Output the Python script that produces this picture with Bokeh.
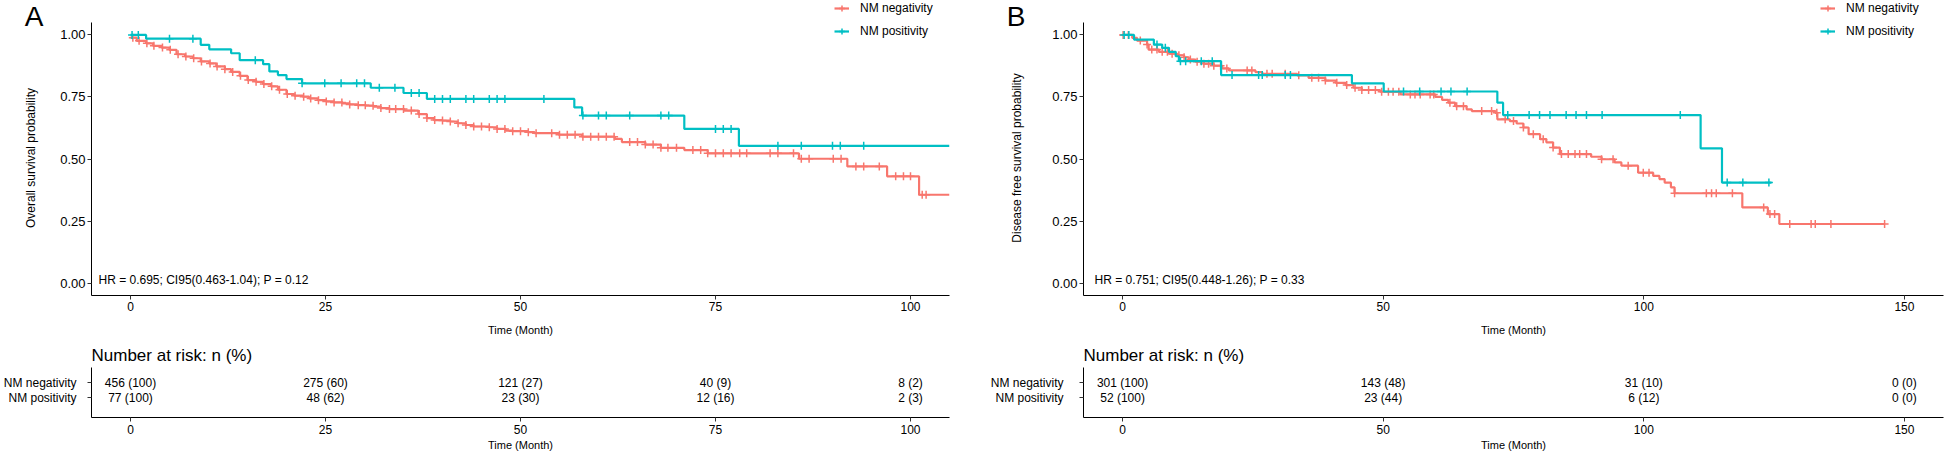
import numpy as np
from bokeh.plotting import figure
from bokeh.models import Range1d, Label, Legend, LegendItem, FixedTicker, NumeralTickFormatter, LinearAxis
from bokeh.layouts import row, column
from bokeh.embed import file_html
from bokeh.resources import INLINE
from bokeh.core.properties import value

RED = "#F8766D"
TEAL = "#00BFC4"
FONT = "Liberation Sans"

# ---------------- Panel A : overall survival ----------------
a_neg_time = [0, 0.8, 2.0, 2.9, 4.0, 5.0, 5.9, 7.0, 8.0, 9.0, 10.1, 11.0, 12.1, 12.9, 14.0, 15.0,
              16.1, 17.0, 18.0, 18.9, 20.0, 21.0, 22.1, 22.9, 24.0, 25.1, 26.1, 27.2, 28.1, 29.1,
              30.2, 31.2, 32.1, 33.2, 35.1, 36.9, 38.0, 38.9, 40.0, 41.0, 41.9, 43.0, 44.0, 46.0,
              47.0, 48.1, 48.9, 51.0, 51.8, 54.9, 57.9, 62.1, 63.0, 66.0, 68.0, 71.0, 74.0, 85.7,
              91.9, 97.0, 101.1]
a_neg_surv = [0.989, 0.976, 0.966, 0.956, 0.949, 0.940, 0.922, 0.913, 0.906, 0.893, 0.885, 0.873,
              0.862, 0.851, 0.835, 0.818, 0.811, 0.802, 0.793, 0.779, 0.762, 0.755, 0.751, 0.744,
              0.737, 0.732, 0.728, 0.724, 0.720, 0.717, 0.715, 0.711, 0.705, 0.701, 0.695, 0.681,
              0.665, 0.657, 0.655, 0.651, 0.644, 0.637, 0.631, 0.628, 0.621, 0.614, 0.612, 0.608,
              0.604, 0.598, 0.590, 0.581, 0.568, 0.558, 0.545, 0.536, 0.523, 0.501, 0.470, 0.430,
              0.356]
a_neg_end = 105.0
a_neg_cens = [0.3, 1.1, 2.1, 3.0, 4.1, 5.1, 6.1, 7.1, 8.1, 9.1, 10.2, 11.1, 12.1, 13.1, 14.1, 15.1,
              16.1, 17.1, 18.1, 19.1, 20.1, 21.1, 22.2, 23.1, 24.1, 25.1, 26.1, 27.1, 28.1, 29.2,
              30.1, 31.1, 32.1, 33.2, 34.0, 35.0, 36.0, 37.0, 38.0, 39.0, 40.0, 41.0, 42.0, 43.0,
              44.0, 45.0, 46.0, 47.0, 48.0, 49.0, 50.0, 51.0, 52.0, 54.0, 55.0, 56.0, 57.0, 58.0,
              59.0, 60.0, 61.0, 62.0, 64.0, 65.0, 66.0, 67.0, 68.0, 68.9, 70.0, 72.1, 73.1, 74.0,
              75.0, 76.0, 77.0, 78.1, 79.0, 82.0, 83.0, 85.0, 86.0, 87.0, 90.1, 91.1, 93.0, 94.0,
              96.0, 98.1, 99.1, 100.0, 101.5, 102.0]

a_pos_time = [0, 2.0, 9.0, 10.1, 12.9, 14.0, 17.0, 17.8, 18.9, 20.0, 22.0, 30.8, 35.0, 38.0,
              56.9, 57.9, 71.0, 78.0]
a_pos_surv = [1.0, 0.985, 0.960, 0.942, 0.926, 0.898, 0.882, 0.853, 0.838, 0.822, 0.805, 0.787,
              0.766, 0.742, 0.708, 0.675, 0.621, 0.553]
a_pos_end = 105.0
a_pos_cens = [0.2, 1.0, 5.0, 8.0, 16.0, 22.0, 24.9, 27.0, 29.0, 30.0, 31.9, 33.9, 36.0, 37.0, 39.0,
              40.0, 41.0, 43.0, 44.0, 46.0, 47.0, 48.0, 53.0, 58.0, 60.0, 61.0, 64.0, 68.0, 69.0,
              75.0, 76.0, 77.0, 83.0, 86.0, 90.0, 91.0, 94.0]

a_risk_time = [0, 25, 50, 75, 100]
a_risk_neg_n = [456, 275, 121, 40, 8]
a_risk_neg_pct = [100, 60, 27, 9, 2]
a_risk_pos_n = [77, 48, 23, 12, 2]
a_risk_pos_pct = [100, 62, 30, 16, 3]
a_xticks = [0, 25, 50, 75, 100]
a_hr = "HR = 0.695; CI95(0.463-1.04); P = 0.12"
a_ylabel = "Overall survival probability"

# ---------------- Panel B : disease free survival ----------------
b_neg_time = [0, 1.85, 2.8, 4.7, 5.0, 7.0, 8.9, 10.5, 11.8, 12.7, 14.0, 15.6, 17.5, 19.1, 20.4,
              25.5, 26.8, 33.5, 35.7, 38.9, 40.9, 42.8, 44.3, 45.9, 49.4, 53.3, 60.0, 61.3, 62.5,
              63.8, 66.0, 67.0, 71.5, 71.9, 74.3, 75.6, 76.9, 77.9, 80.1, 81.3, 82.6, 83.9, 89.9,
              91.9, 94.4, 95.7, 98.9, 101.8, 103.0, 104.0, 105.2, 105.9, 118.9, 123.8, 126.0]
b_neg_surv = [1.0, 0.988, 0.977, 0.961, 0.941, 0.932, 0.924, 0.918, 0.910, 0.901, 0.892, 0.884,
              0.876, 0.865, 0.857, 0.850, 0.843, 0.837, 0.827, 0.816, 0.807, 0.798, 0.787, 0.778,
              0.771, 0.760, 0.750, 0.738, 0.727, 0.713, 0.700, 0.693, 0.686, 0.660, 0.653, 0.643,
              0.627, 0.600, 0.580, 0.567, 0.546, 0.520, 0.509, 0.499, 0.486, 0.473, 0.445, 0.432,
              0.419, 0.405, 0.386, 0.362, 0.305, 0.278, 0.238]
b_neg_end = 146.2
b_neg_cens = [0.1, 1.1, 3.4, 4.7, 5.6, 6.6, 7.6, 8.6, 9.5, 10.8, 11.8, 13.0, 14.3, 15.6, 16.5,
              17.5, 18.8, 20.0, 23.9, 24.8, 27.7, 28.7, 31.2, 33.8, 36.3, 37.6, 38.9, 41.1, 43.0,
              44.6, 45.9, 47.2, 48.5, 49.7, 51.0, 51.9, 53.0, 55.2, 56.1, 57.1, 59.0, 59.7, 62.8,
              64.1, 65.4, 68.9, 70.8, 71.8, 73.4, 75.0, 76.9, 78.8, 80.7, 82.6, 84.2, 85.5, 86.8,
              87.7, 89.0, 91.9, 94.1, 97.0, 99.9, 101.0, 105.9, 112.0, 113.0, 113.9, 117.0, 123.0,
              124.2, 125.1, 128.0, 132.1, 132.9, 135.9, 146.2]

b_pos_time = [0, 2.2, 6.0, 7.6, 8.9, 10.2, 10.8, 18.9, 44.0, 50.1, 71.9, 73.0, 110.9, 115.0]
b_pos_surv = [1.0, 0.981, 0.961, 0.948, 0.932, 0.914, 0.894, 0.838, 0.805, 0.772, 0.727, 0.677,
              0.543, 0.405]
b_pos_end = 124.5
b_pos_cens = [0.3, 1.2, 6.6, 8.2, 11.1, 12.1, 15.1, 17.2, 21.0, 26.1, 26.8, 31.2, 32.2, 53.9,
              57.0, 61.1, 63.0, 66.1, 73.9, 78.0, 80.0, 82.0, 85.1, 87.0, 89.0, 92.0, 107.0,
              116.0, 119.0, 124.0]

b_risk_time = [0, 50, 100, 150]
b_risk_neg_n = [301, 143, 31, 0]
b_risk_neg_pct = [100, 48, 10, 0]
b_risk_pos_n = [52, 23, 6, 0]
b_risk_pos_pct = [100, 44, 12, 0]
b_xticks = [0, 50, 100, 150]
b_hr = "HR = 0.751; CI95(0.448-1.26); P = 0.33"
b_ylabel = "Disease free survival probability"

groups = ["NM negativity", "NM positivity"]

# layout constants (pixels)
MAIN_H = 340
MAIN_BOTTOM = 45
AXIS_TOP_GAP = 22          # px between canvas top and the y = 1.05 end of the axis
RISK_H = 113
RISK_TOP = 27
RISK_BOTTOM = 36
Y_LO, Y_HI = -0.05, 1.05
NBSP = "\u00a0"


def style_axes(p, tick_size="12px"):
    for ax in (p.xaxis, p.yaxis):
        ax.axis_line_color = "black"
        ax.axis_line_width = 1
        ax.major_tick_line_color = "#333333"
        ax.major_tick_out = 4
        ax.major_tick_in = 0
        ax.minor_tick_line_color = None
        ax.major_label_text_font = FONT
        ax.major_label_text_color = "black"
        ax.major_label_text_font_size = tick_size
        ax.axis_label_text_font = FONT
        ax.axis_label_text_font_style = "normal"
        ax.axis_label_text_color = "black"
        ax.axis_label_text_font_size = "12px"
    p.xgrid.visible = False
    p.ygrid.visible = False
    p.outline_line_color = None


def add_curve(p, times, surv, end, cens, color):
    xs = list(times) + [end]
    ys = list(surv) + [surv[-1]]
    r = p.step(x=xs, y=ys, mode="after", line_color=color, line_width=2.2)
    t = np.asarray(times)
    idx = np.searchsorted(t, np.asarray(cens), side="right") - 1
    cy = np.asarray(surv)[idx]
    s = p.scatter(x=cens, y=cy, marker="cross", size=8, line_color=color, line_width=1.5)
    return r, s


def main_fig(width, left, right, xr, xticks, ylabel, curves, hr, hr_x, letter, leg_x,
             letter_standoff, ylab_standoff):
    frame_h = MAIN_H - MAIN_BOTTOM
    px_per_unit = (frame_h - AXIS_TOP_GAP) / (Y_HI - Y_LO)
    y_top = Y_HI + AXIS_TOP_GAP / px_per_unit
    p = figure(width=width, height=MAIN_H, x_range=Range1d(*xr), y_range=Range1d(Y_LO, y_top),
               output_backend="svg", toolbar_location=None,
               min_border_left=left, min_border_right=right,
               min_border_top=0, min_border_bottom=MAIN_BOTTOM)
    style_axes(p, "13px")
    p.xaxis.major_label_text_font_size = "12px"
    p.xaxis.ticker = FixedTicker(ticks=xticks)
    p.yaxis.ticker = FixedTicker(ticks=[0, 0.25, 0.5, 0.75, 1.0])
    p.yaxis.formatter = NumeralTickFormatter(format="0.00")
    p.yaxis.bounds = (Y_LO, Y_HI)
    p.yaxis.major_label_standoff = 2
    p.xaxis.major_label_standoff = 2
    # non-breaking spaces keep the rotated label centred on the drawn axis span
    p.yaxis.axis_label = ylabel + NBSP * 6
    p.yaxis.axis_label_standoff = ylab_standoff
    p.xaxis.axis_label = "Time (Month)"
    p.xaxis.axis_label_text_font_size = "11px"
    p.xaxis.axis_label_standoff = 10

    # panel letter, drawn as the single label of an extra, line-less left axis
    letter_y = round(y_top - 15 / px_per_unit, 3)
    lax = LinearAxis(ticker=FixedTicker(ticks=[letter_y]),
                     major_label_overrides={letter_y: letter},
                     axis_line_color=None, major_tick_line_color=None,
                     minor_tick_line_color=None, major_label_text_font=FONT,
                     major_label_text_font_size="28px", major_label_text_color="black",
                     major_label_standoff=letter_standoff, major_label_orientation="horizontal")
    p.add_layout(lax, "left")

    items = []
    for (times, surv, end, cens, color), name in zip(curves, groups):
        r, s = add_curve(p, times, surv, end, cens, color)
        items.append(LegendItem(label=name, renderers=[r, s]))

    leg = Legend(items=items, location=(leg_x, frame_h - 40), padding=0, margin=0, spacing=5,
                 glyph_width=15, glyph_height=18, label_height=18, label_standoff=11,
                 label_text_font=FONT, label_text_font_size="12px", label_text_color="black",
                 border_line_color=None, background_fill_alpha=0)
    p.add_layout(leg)

    p.add_layout(Label(x=hr_x, y=16, x_units="screen", y_units="screen", text=hr,
                       text_font=FONT, text_font_size="12px", text_color="black",
                       text_baseline="middle"))
    return p


def risk_fig(width, left, right, xr, xticks, rtime, neg_n, neg_pct, pos_n, pos_pct, lab_standoff):
    frame_h = RISK_H - RISK_TOP - RISK_BOTTOM
    row_px = 15
    y_lo = 1 - (frame_h - 2 * row_px) / row_px
    p = figure(width=width, height=RISK_H, x_range=Range1d(*xr), y_range=Range1d(y_lo, 3.0),
               output_backend="svg", toolbar_location=None,
               min_border_left=left, min_border_right=right,
               min_border_top=RISK_TOP, min_border_bottom=RISK_BOTTOM,
               title="Number at risk: n (%)")
    p.title.text_font = FONT
    p.title.text_font_size = "17px"
    p.title.text_font_style = "normal"
    p.title.text_color = "black"
    p.title.align = "left"
    p.title.standoff = 5
    style_axes(p, "12px")
    p.xaxis.ticker = FixedTicker(ticks=xticks)
    p.xaxis.major_label_standoff = 3
    p.xaxis.axis_label = "Time (Month)"
    p.xaxis.axis_label_text_font_size = "11px"
    p.xaxis.axis_label_standoff = 2
    p.yaxis.ticker = FixedTicker(ticks=[1, 2])
    p.yaxis.major_label_overrides = {1: groups[1], 2: groups[0]}
    p.yaxis.major_label_standoff = lab_standoff
    neg_lab = [f"{n} ({q})" for n, q in zip(neg_n, neg_pct)]
    pos_lab = [f"{n} ({q})" for n, q in zip(pos_n, pos_pct)]
    for yv, labs in ((2, neg_lab), (1, pos_lab)):
        p.text(x=rtime, y=[yv] * len(rtime), text=labs, text_align="center",
               text_baseline="middle", text_font=value(FONT), text_font_size="12px",
               text_color="black")
    return p


A_W, A_L, A_R = 965, 88, 16
B_W, B_L, B_R = 981, 118, 3
a_xr = (-5.0, 105.0)
b_xr = (-7.5, 157.5)

pa = main_fig(A_W, A_L, A_R, a_xr, a_xticks, a_ylabel,
              [(a_neg_time, a_neg_surv, a_neg_end, a_neg_cens, RED),
               (a_pos_time, a_pos_surv, a_pos_end, a_pos_cens, TEAL)],
              a_hr, 7, "A", 743, -28, 19)
ra = risk_fig(A_W, A_L, A_R, a_xr, a_xticks, a_risk_time, a_risk_neg_n, a_risk_neg_pct,
              a_risk_pos_n, a_risk_pos_pct, 11)
pb = main_fig(B_W, B_L, B_R, b_xr, b_xticks, b_ylabel,
              [(b_neg_time, b_neg_surv, b_neg_end, b_neg_cens, RED),
               (b_pos_time, b_pos_surv, b_pos_end, b_pos_cens, TEAL)],
              b_hr, 11, "B", 737, -24, 25)
rb = risk_fig(B_W, B_L, B_R, b_xr, b_xticks, b_risk_time, b_risk_neg_n, b_risk_neg_pct,
              b_risk_pos_n, b_risk_pos_pct, 16)

layout = row(column(pa, ra), column(pb, rb))
open("out.html", "w").write(file_html(layout, INLINE))
